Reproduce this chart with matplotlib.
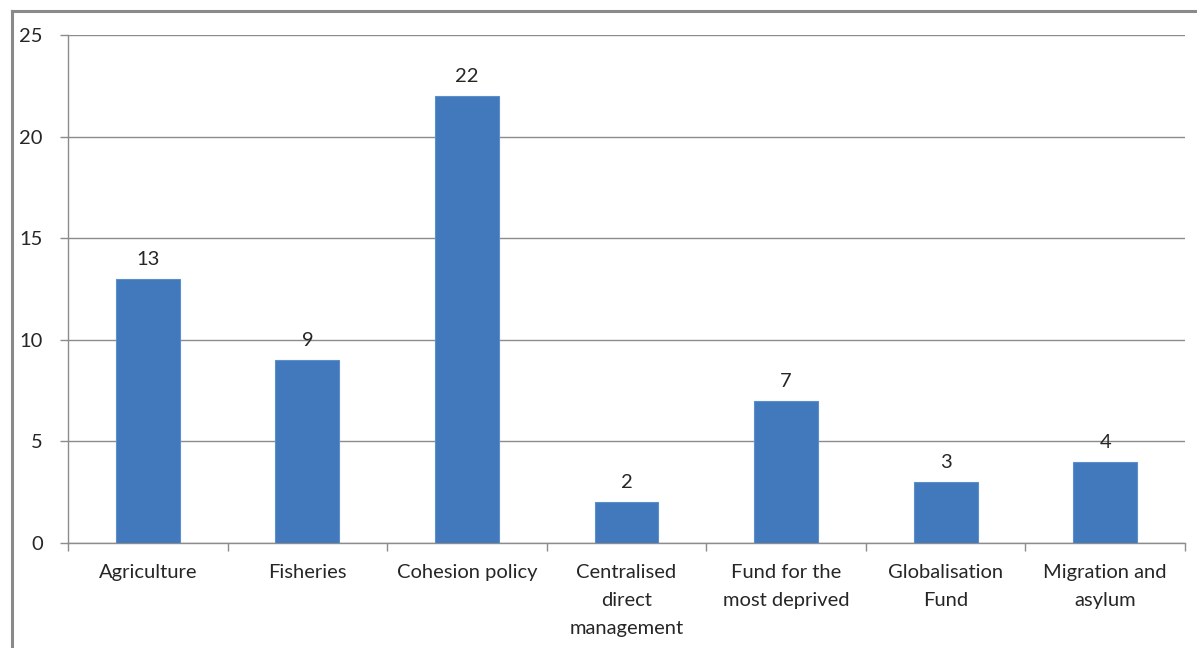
import matplotlib.pyplot as plt
from matplotlib.lines import Line2D

# Data
categories = ['Agriculture', 'Fisheries', 'Cohesion policy',
              'Centralised\ndirect\nmanagement', 'Fund for the\nmost deprived',
              'Globalisation\nFund', 'Migration and\nasylum']
values = [13, 9, 22, 2, 7, 3, 4]
y_ticks = [0, 5, 10, 15, 20, 25]

bar_color = '#4279BC'
grid_color = '#8C8C8C'
text_color = '#262626'

plt.rcParams['font.family'] = ['Lato', 'DejaVu Sans']

fig = plt.figure(figsize=(11.97, 6.48), dpi=100)
ax = fig.add_axes([68 / 1197, 1 - 543 / 648, (1185 - 68) / 1197, (543 - 35) / 648])

x = list(range(len(categories)))
bars = ax.bar(x, values, width=0.4, color=bar_color, edgecolor='#5B8ECB',
              linewidth=0.8, zorder=3)

for xi, v in zip(x, values):
    ax.annotate(str(v), (xi, v), xytext=(0, 8), textcoords='offset points',
                ha='center', va='bottom', fontsize=14.5, color=text_color)

ax.set_xlim(-0.5, len(categories) - 0.5)
ax.set_ylim(0, 25)
ax.set_yticks(y_ticks)
ax.set_yticklabels([str(t) for t in y_ticks], fontsize=14.5, color=text_color)
ax.yaxis.grid(True, color=grid_color, linewidth=1, zorder=0)

# category labels centred, tick marks between categories
ax.set_xticks(x)
ax.set_xticklabels(categories, fontsize=14.5, color=text_color, linespacing=1.78)
ax.tick_params(axis='x', length=0, pad=15)
ax.set_xticks([i - 0.5 for i in range(len(categories) + 1)], minor=True)
ax.tick_params(axis='x', which='minor', length=6, color=grid_color, width=1, direction='out')
ax.tick_params(axis='y', length=6, color=grid_color, width=1, pad=12)

for side in ['top', 'right']:
    ax.spines[side].set_visible(False)
for side in ['left', 'bottom']:
    ax.spines[side].set_color(grid_color)
    ax.spines[side].set_linewidth(1)

# outer chart border (top and left visible)
fig.add_artist(Line2D([11.5 / 1197, 1], [1 - 10.5 / 648] * 2, color='#8A8A8A', linewidth=2.2,
                      transform=fig.transFigure))
fig.add_artist(Line2D([11.5 / 1197] * 2, [0, 1 - 10.5 / 648], color='#8A8A8A', linewidth=2.2,
                      transform=fig.transFigure))

fig.savefig('out.png', dpi=100)
